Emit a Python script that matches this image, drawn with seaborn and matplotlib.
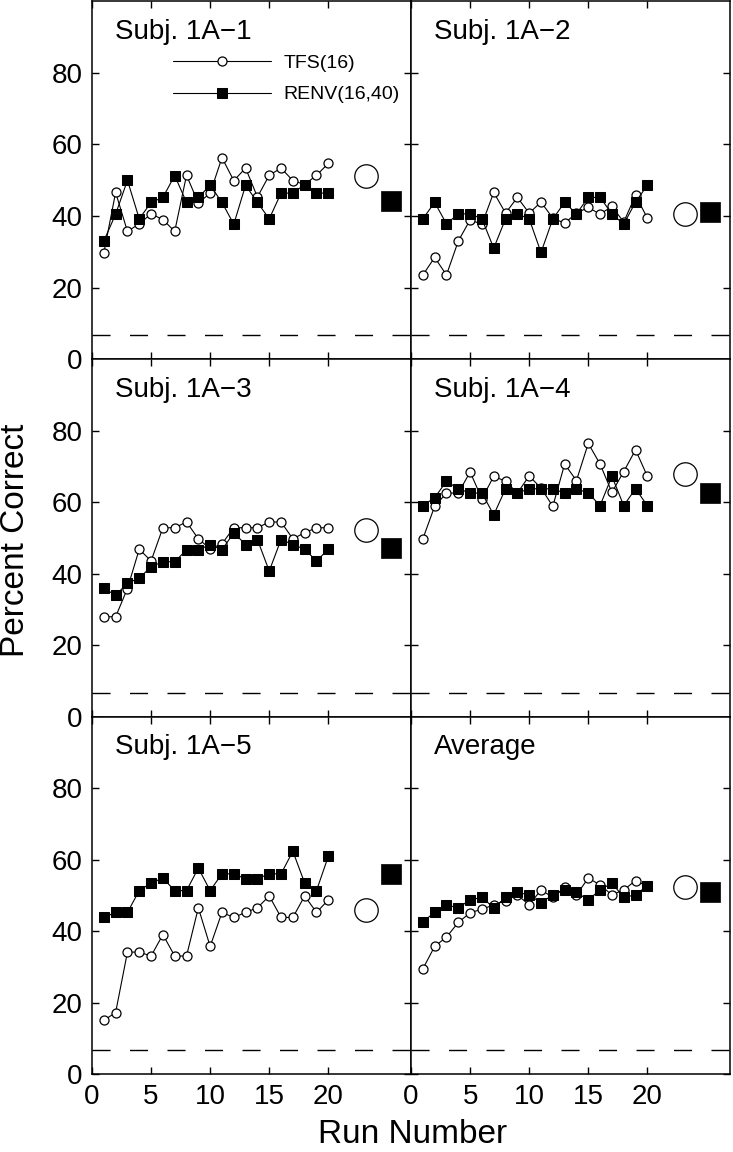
import pandas as pd
import matplotlib
matplotlib.use("Agg")
import matplotlib.pyplot as plt
import seaborn as sns

# Werte (Prozent korrekt pro Durchgang)
runs = list(range(1, 21))
panels = ["Subj. 1A\u22121", "Subj. 1A\u22122", "Subj. 1A\u22123",
          "Subj. 1A\u22124", "Subj. 1A\u22125", "Average"]

tfs_1a1 = [29.6, 46.6, 35.7, 37.8, 40.6, 39.0, 35.7, 51.4, 43.6, 46.4,
           56.3, 49.9, 53.4, 45.3, 51.4, 53.4, 49.9, 48.8, 51.4, 54.7]
renv_1a1 = [33.0, 40.5, 50.0, 39.2, 43.8, 45.2, 51.3, 43.8, 45.2, 48.6,
            43.8, 37.7, 48.6, 43.8, 39.2, 46.4, 46.4, 48.8, 46.4, 46.4]

tfs_1a2 = [23.5, 28.4, 23.5, 33.0, 38.9, 37.7, 46.6, 40.8, 45.2, 40.8,
           43.9, 39.4, 38.0, 40.8, 42.4, 40.5, 42.7, 38.3, 45.8, 39.4]
renv_1a2 = [39.2, 43.8, 37.8, 40.6, 40.6, 39.2, 31.0, 39.2, 40.6, 39.2,
            29.8, 39.2, 43.8, 40.6, 45.2, 45.2, 40.6, 37.7, 43.9, 48.6]

tfs_1a3 = [27.9, 27.9, 35.8, 46.8, 43.5, 52.8, 52.8, 54.4, 49.7, 46.9,
           48.3, 52.8, 52.8, 52.8, 54.4, 54.4, 49.7, 51.4, 52.8, 52.8]
renv_1a3 = [35.9, 33.9, 37.3, 38.7, 41.9, 43.3, 43.3, 46.6, 46.6, 48.1,
            46.6, 51.4, 48.1, 49.5, 40.7, 49.5, 48.1, 46.8, 43.5, 46.8]

tfs_1a4 = [49.7, 58.8, 62.5, 62.5, 68.4, 60.9, 67.2, 65.8, 62.5, 67.3,
           63.9, 58.8, 70.6, 66.0, 76.4, 70.6, 62.7, 68.5, 74.6, 67.2]
renv_1a4 = [59.0, 61.2, 65.8, 63.7, 62.5, 62.5, 56.4, 63.7, 62.5, 63.7,
            63.7, 63.7, 62.5, 63.7, 62.5, 59.0, 67.2, 59.0, 63.7, 59.0]

tfs_1a5 = [15.0, 17.2, 34.1, 34.1, 33.0, 39.0, 33.0, 33.0, 46.5, 35.7,
           45.2, 43.8, 45.2, 46.5, 49.8, 43.8, 43.8, 49.8, 45.2, 48.7]
renv_1a5 = [43.8, 45.2, 45.2, 51.3, 53.4, 54.8, 51.3, 51.3, 57.6, 51.3,
            56.0, 56.0, 54.6, 54.6, 56.0, 56.0, 62.3, 53.4, 51.3, 60.9]

tfs_avg = [29.4, 35.7, 38.3, 42.4, 45.1, 46.1, 47.3, 48.5, 50.1, 47.3,
           51.5, 49.4, 52.2, 50.1, 54.8, 52.9, 50.1, 51.5, 54.1, 52.5]
renv_avg = [42.6, 45.2, 47.3, 46.5, 48.7, 49.4, 46.5, 49.4, 50.8, 50.1,
            47.9, 50.1, 51.5, 50.8, 48.7, 51.5, 53.4, 49.4, 50.1, 52.7]

# Mittelwerte (grosse Symbole rechts)
tfs_mean = [51.3, 40.6, 52.1, 67.9, 45.9, 52.3]
renv_mean = [44.3, 41.1, 47.2, 62.5, 56.0, 50.8]

chance = 100 / 15

tfs_all = [tfs_1a1, tfs_1a2, tfs_1a3, tfs_1a4, tfs_1a5, tfs_avg]
renv_all = [renv_1a1, renv_1a2, renv_1a3, renv_1a4, renv_1a5, renv_avg]

rows = []
for p, t, r in zip(panels, tfs_all, renv_all):
    for run, a, b in zip(runs, t, r):
        rows.append((p, "TFS(16)", run, a))
        rows.append((p, "RENV(16,40)", run, b))
df = pd.DataFrame(rows, columns=["panel", "cond", "run", "pc"])

sns.set_style("ticks", {"axes.edgecolor": "black", "text.color": "black",
                        "xtick.color": "black", "ytick.color": "black",
                        "axes.labelcolor": "black"})
plt.rcParams["font.family"] = ["Liberation Sans", "DejaVu Sans"]

fig, axes = plt.subplots(3, 2, figsize=(7.33, 11.52), dpi=100, sharex=True, sharey=True)
fig.subplots_adjust(left=0.1255, right=0.996, top=0.9987, bottom=0.0677,
                    wspace=0, hspace=0)

for i, ax in enumerate(axes.flat):
    sub = df[df["panel"] == panels[i]]
    sns.lineplot(data=sub[sub["cond"] == "TFS(16)"], x="run", y="pc", ax=ax,
                 color="black", lw=0.8, marker="o", markersize=6.5,
                 markerfacecolor="white", markeredgecolor="black",
                 markeredgewidth=0.9, errorbar=None, label="TFS(16)")
    sns.lineplot(data=sub[sub["cond"] == "RENV(16,40)"], x="run", y="pc", ax=ax,
                 color="black", lw=0.8, marker="s", markersize=7.7,
                 markerfacecolor="black", markeredgecolor="black",
                 errorbar=None, label="RENV(16,40)")
    sns.scatterplot(x=[23.2], y=[tfs_mean[i]], ax=ax, marker="o", s=285,
                    color="white", edgecolor="black", linewidth=0.9, zorder=3)
    sns.scatterplot(x=[25.3], y=[renv_mean[i]], ax=ax, marker="s", s=225,
                    color="black", edgecolor="black", linewidth=0.5, zorder=3)
    ax.axhline(chance, color="black", lw=1.0, dashes=(13, 14))

    ax.set_xlim(0, 27)
    ax.set_ylim(0, 100)
    ax.set_xticks([0, 5, 10, 15, 20])
    ax.set_yticks([0, 20, 40, 60, 80])
    ax.tick_params(direction="in", top=True, right=True, length=5, width=1,
                   labelsize=20, pad=7, colors="black")
    for s in ax.spines.values():
        s.set_linewidth(1.1)
        s.set_color("black")
    ax.set_xlabel("")
    ax.set_ylabel("")
    ax.text(0.072, 0.894, panels[i], transform=ax.transAxes, fontsize=20,
            ha="left", va="baseline", color="black")

    if i == 0:
        h, l = ax.get_legend_handles_labels()
        leg = ax.legend(h[:2], l[:2], loc="upper left", bbox_to_anchor=(0.255, 0.853),
                        frameon=False, fontsize=14, handlelength=5.0, handletextpad=0.67,
                        labelspacing=0.73, borderpad=0, borderaxespad=0, numpoints=1)
        for t in leg.get_texts():
            t.set_color("black")
    elif ax.get_legend() is not None:
        ax.get_legend().remove()

fig.text(0.021, 0.531, "Percent Correct", rotation=90, fontsize=24,
         ha="center", va="center", color="black")
fig.text(0.563, 0.008, "Run Number", fontsize=24, ha="center", va="baseline",
         color="black")

plt.savefig("out.png", dpi=100)
